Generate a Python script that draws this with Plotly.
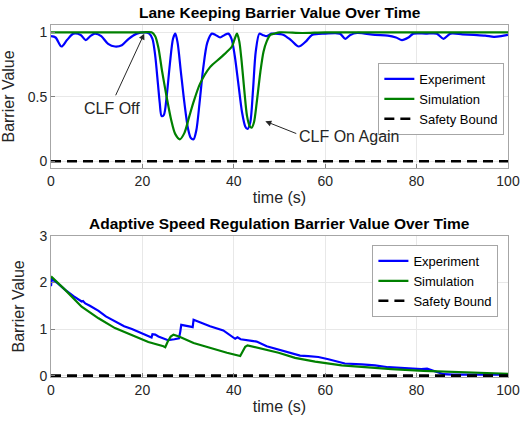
import plotly.graph_objects as go

# ---------------- data: Lane keeping (top) ----------------
lk_exp_t = [0, 1, 2.3, 3.5, 4.9, 6.5, 7.6, 8.6, 9.6, 11,
            12.5, 14.0, 15.5, 17, 18.8, 20.5, 21.5, 22.2, 22.8, 23.4,
            23.8, 24.2, 24.7, 25.3, 26.0, 26.7, 27.2, 27.7, 28.4, 29.2,
            30.0, 30.6, 31.2, 31.8, 32.5, 33.3, 34.2, 35.2, 36.0, 37.0,
            38.0, 38.8, 39.5, 40.2, 41.0, 41.8, 42.5, 43.0, 43.6, 44.2,
            44.8, 45.6, 46.3, 47.2, 48.2, 49.0, 50.9, 52.5, 54.2, 55.8,
            57.1, 60, 63.2, 64.4, 65.5, 67, 70.9, 73.7, 75.5, 76.8,
            78.2, 79.3, 82, 84.4, 85.9, 87.4, 90, 92.5, 95, 96.9,
            98.5, 100]
lk_exp_v = [0.97, 0.96, 0.89, 0.94, 0.99, 0.98, 0.94, 0.97, 0.99, 0.97,
            0.91, 0.89, 0.90, 0.95, 0.99, 1.0, 0.99, 0.95, 0.82, 0.6,
            0.45, 0.35, 0.36, 0.5, 0.75, 0.95, 0.99, 0.92, 0.7, 0.45,
            0.25, 0.18, 0.17, 0.24, 0.45, 0.72, 0.92, 0.99, 0.98, 0.96,
            0.98, 0.99, 0.95, 0.82, 0.6, 0.38, 0.27, 0.25, 0.3, 0.55,
            0.85, 0.99, 0.98, 0.97, 0.99, 0.99, 0.98, 0.94, 0.89, 0.93,
            0.98, 0.99, 0.99, 0.95, 0.98, 0.995, 0.98, 0.975, 0.96, 0.94,
            0.96, 0.99, 0.99, 0.99, 0.95, 0.99, 0.985, 0.98, 0.975, 0.965,
            0.97, 0.98]

lk_sim_t = [0, 5, 10, 15, 20, 22.0, 22.8, 23.5, 24.3, 25.3,
            26.3, 27.2, 28.2, 29.2, 30.2, 31.2, 32.6, 34.8, 37.0, 38.5,
            39.6, 40.2, 40.7, 41.2, 41.7, 42.3, 42.9, 43.5, 43.9, 44.4,
            45.0, 45.8, 46.5, 47.2, 48.0, 48.9, 50, 55, 60, 70,
            80, 90, 100]
lk_sim_v = [1.0, 1.0, 1.0, 1.0, 1.0, 1.0, 0.97, 0.88, 0.7, 0.5,
            0.32, 0.21, 0.17, 0.22, 0.34, 0.46, 0.6, 0.73, 0.8, 0.85,
            0.89, 0.95, 0.99, 0.93, 0.78, 0.55, 0.35, 0.27, 0.26, 0.3,
            0.45, 0.69, 0.85, 0.93, 0.98, 0.99, 1.0, 0.995, 1.0, 1.0,
            1.0, 1.0, 1.0]

# ---------------- data: Adaptive speed regulation (bottom) ----------------
asr_exp_t = [0, 0.15, 1.5, 3.1, 5, 6.7, 7.0, 7.5, 8.5, 10.4,
             12, 14.0, 16, 17.7, 20, 22.0, 22.2, 22.8, 23.5, 24.6,
             25.6, 27.0, 28.0, 28.3, 28.5, 30.5, 31.0, 31.2, 32, 34.8,
             37.7, 40.3, 40.8, 41.5, 44.3, 45.0, 47.2, 50.9, 54.5, 56.3,
             58.5, 60.7, 64.3, 68.0, 70.9, 73.8, 78.6, 81, 82.3, 83.7,
             85.9, 88, 95, 100]
asr_exp_v = [1.92, 2.07, 1.98, 1.84, 1.7, 1.59, 1.6, 1.55, 1.5, 1.39,
             1.27, 1.16, 1.06, 1.0, 0.9, 0.82, 0.89, 0.88, 0.84, 0.79,
             0.76, 0.78, 0.8, 0.95, 1.09, 1.05, 1.04, 1.2, 1.17, 1.06,
             0.97, 0.79, 0.82, 0.78, 0.74, 0.73, 0.63, 0.53, 0.43, 0.42,
             0.4, 0.35, 0.26, 0.24, 0.22, 0.18, 0.15, 0.14, 0.15, 0.1,
             0.03, 0.02, 0.02, 0.02]

asr_sim_t = [0, 3.1, 6.7, 10.4, 14, 17.7, 21.3, 24.6, 25.0, 25.5,
             26.2, 26.8, 28, 31.2, 35.5, 38.5, 41.4, 42.0, 42.5, 43.0,
             45.8, 49.8, 53.4, 57.8, 63.6, 69.4, 74.5, 81.5, 88.8, 95,
             100]
asr_sim_v = [2.13, 1.84, 1.48, 1.23, 1.02, 0.86, 0.72, 0.63, 0.61, 0.72,
             0.84, 0.88, 0.84, 0.7, 0.57, 0.49, 0.42, 0.55, 0.62, 0.65,
             0.58, 0.49, 0.38, 0.3, 0.22, 0.17, 0.14, 0.1, 0.07, 0.05,
             0.04]

bound_t = [0, 100]
bound_v = [0, 0]

x_ticks = [0, 20, 40, 60, 80, 100]
lk_y_ticks = [0, 0.5, 1]
lk_y_ticktext = ["0", "0.5", "1"]
asr_y_ticks = [0, 1, 2, 3]

BLUE = "#0000ff"
GREEN = "#008000"
FONT = "Liberation Sans, Arial, Helvetica, sans-serif"

fig = go.Figure()

# top
fig.add_trace(go.Scatter(x=lk_exp_t, y=lk_exp_v, mode="lines", name="Experiment",
                         line=dict(color=BLUE, width=2.2, shape="spline", smoothing=0.8),
                         xaxis="x", yaxis="y", legend="legend"))
fig.add_trace(go.Scatter(x=lk_sim_t, y=lk_sim_v, mode="lines", name="Simulation",
                         line=dict(color=GREEN, width=2.2, shape="spline", smoothing=0.8),
                         xaxis="x", yaxis="y", legend="legend"))
fig.add_trace(go.Scatter(x=bound_t, y=bound_v, mode="lines", name="Safety Bound",
                         line=dict(color="black", width=2.6, dash="10px,6px"),
                         xaxis="x", yaxis="y", legend="legend"))
# bottom
fig.add_trace(go.Scatter(x=asr_exp_t, y=asr_exp_v, mode="lines", name="Experiment",
                         line=dict(color=BLUE, width=2.2),
                         xaxis="x2", yaxis="y2", legend="legend2"))
fig.add_trace(go.Scatter(x=asr_sim_t, y=asr_sim_v, mode="lines", name="Simulation",
                         line=dict(color=GREEN, width=2.2),
                         xaxis="x2", yaxis="y2", legend="legend2"))
fig.add_trace(go.Scatter(x=bound_t, y=bound_v, mode="lines", name="Safety Bound",
                         line=dict(color="black", width=2.6, dash="10px,6px"),
                         xaxis="x2", yaxis="y2", legend="legend2"))

axis_common = dict(showline=True, linecolor="#a6a6a6", linewidth=1, mirror=True,
                   showgrid=True, gridcolor="#e8e8e8", gridwidth=1,
                   ticks="inside", ticklen=4, tickcolor="#808080",
                   tickfont=dict(family=FONT, size=14, color="#262626"),
                   zeroline=False, automargin=False)

fig.update_layout(
    width=520, height=427,
    margin=dict(l=51, r=12, t=25, b=50, autoexpand=False),
    paper_bgcolor="white", plot_bgcolor="white",
    font=dict(family=FONT, color="#262626"),
    xaxis=dict(domain=[0, 1], range=[0, 100], tickvals=x_ticks, anchor="y",
               title=dict(text="time (s)", font=dict(size=16, family=FONT), standoff=4),
               **axis_common),
    yaxis=dict(domain=[0.594, 1], range=[-0.052, 1.057], tickvals=lk_y_ticks,
               ticktext=lk_y_ticktext, anchor="x",
               title=dict(text="Barrier Value", font=dict(size=16, family=FONT), standoff=10),
               **axis_common),
    xaxis2=dict(domain=[0, 1], range=[0, 100], tickvals=x_ticks, anchor="y2",
                title=dict(text="time (s)", font=dict(size=16, family=FONT), standoff=4),
                **axis_common),
    yaxis2=dict(domain=[0, 0.401], range=[-0.03, 3], tickvals=asr_y_ticks, anchor="x2",
                title=dict(text="Barrier Value", font=dict(size=16, family=FONT), standoff=10),
                **axis_common),
    legend=dict(x=0.992, y=0.892, xanchor="right", yanchor="top", itemwidth=30,
                bgcolor="white", bordercolor="#a6a6a6", borderwidth=1,
                font=dict(family=FONT, size=13, color="black"), tracegroupgap=0),
    legend2=dict(x=0.979, y=0.375, xanchor="right", yanchor="top", itemwidth=30,
                 bgcolor="white", bordercolor="#a6a6a6", borderwidth=1,
                 font=dict(family=FONT, size=13, color="black"), tracegroupgap=0),
    showlegend=True,
)

annotations = [
    dict(text="<b>Lane Keeping Barrier Value Over Time</b>", xref="paper", yref="paper",
         x=0.5, y=1.0, xanchor="center", yanchor="bottom", yshift=2, showarrow=False,
         font=dict(family=FONT, size=15.5, color="black")),
    dict(text="<b>Adaptive Speed Regulation Barrier Value Over Time</b>", xref="paper", yref="paper",
         x=0.5, y=0.401, xanchor="center", yanchor="bottom", yshift=2, showarrow=False,
         font=dict(family=FONT, size=15.5, color="black")),
    # arrows
    dict(x=20.4, y=0.99, ax=14.0, ay=0.5, xref="x", yref="y", axref="x", ayref="y",
         text="", showarrow=True, arrowhead=2, arrowsize=1.2, arrowwidth=1, arrowcolor="#262626"),
    dict(x=46.9, y=0.31, ax=54.0, ay=0.21, xref="x", yref="y", axref="x", ayref="y",
         text="", showarrow=True, arrowhead=2, arrowsize=1.2, arrowwidth=1, arrowcolor="#262626"),
    dict(x=13.4, y=0.41, xref="x", yref="y", text="CLF Off", showarrow=False,
         font=dict(family=FONT, size=16, color="#262626")),
    dict(x=65.3, y=0.19, xref="x", yref="y", text="CLF On Again", showarrow=False,
         font=dict(family=FONT, size=16, color="#262626")),
]
fig.update_layout(annotations=annotations)

fig.write_html("out.html")
